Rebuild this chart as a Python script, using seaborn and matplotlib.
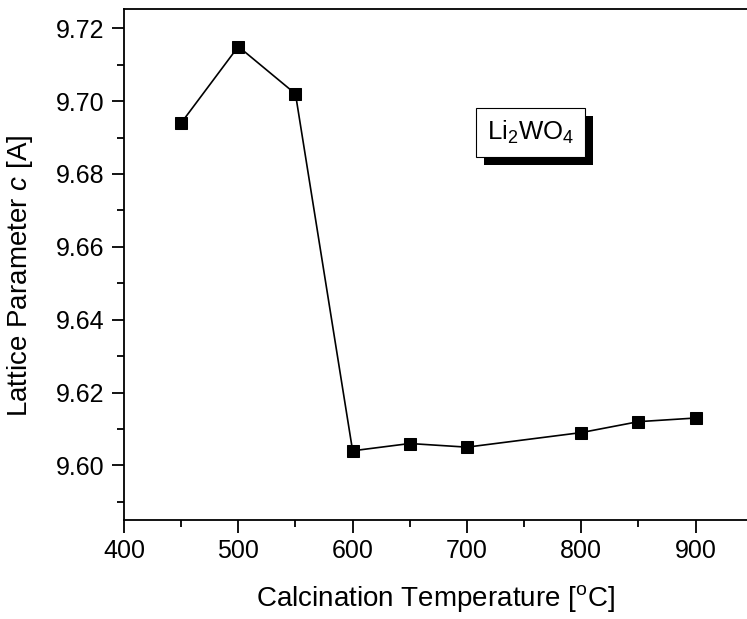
import pandas as pd
import numpy as np
import matplotlib
matplotlib.use("Agg")
import matplotlib.pyplot as plt
import matplotlib.patheffects as pe
import seaborn as sns
from matplotlib.ticker import MultipleLocator

sns.set_style("ticks")
plt.rcParams["font.family"] = ["Liberation Sans", "DejaVu Sans"]
plt.rcParams["mathtext.fontset"] = "custom"
plt.rcParams["mathtext.rm"] = "Liberation Sans"
plt.rcParams["mathtext.it"] = "Liberation Sans:italic"
plt.rcParams["text.color"] = "black"
plt.rcParams["axes.labelcolor"] = "black"

# calcination temperature [oC] and lattice parameter c [A]
temperature = [450, 500, 550, 600, 650, 700, 800, 850, 900]
lattice_c = [9.694, 9.715, 9.702, 9.604, 9.606, 9.605, 9.609, 9.612, 9.613]
df = pd.DataFrame({"T": temperature, "c": lattice_c})

fig = plt.figure(figsize=(7.47, 6.19), dpi=100)
ax = fig.add_axes([124 / 747, 1 - 520 / 619, 1 - 124 / 747, (520 - 9) / 619])

sns.lineplot(data=df, x="T", y="c", ax=ax, color="black", linewidth=1.2,
             marker="s", markersize=8, markeredgecolor="black")

ax.set_xlim(400, 945)
ax.set_ylim(9.585, 9.7253)
ax.xaxis.set_major_locator(MultipleLocator(100))
ax.xaxis.set_minor_locator(MultipleLocator(50))
ax.yaxis.set_major_locator(MultipleLocator(0.02))
ax.yaxis.set_minor_locator(MultipleLocator(0.01))
ax.yaxis.set_major_formatter(plt.FormatStrFormatter("%.2f"))
ax.tick_params(which="major", direction="out", length=9, width=1.3, labelsize=18,
               colors="black", labelcolor="black")
ax.tick_params(which="minor", direction="out", length=5, width=1.3, colors="black")
ax.tick_params(axis="x", pad=5)
ax.tick_params(axis="y", pad=5)
for side in ["left", "bottom", "top"]:
    ax.spines[side].set_linewidth(1.3)
    ax.spines[side].set_color("black")
ax.spines["right"].set_visible(False)

ax.set_xlabel("Calcination Temperature [$\\mathregular{^{o}}$C]", fontsize=20, labelpad=14)
ax.set_ylabel("Lattice Parameter $c$ [A]", fontsize=20)
ax.yaxis.set_label_coords(-0.143, 0.477)

t = ax.text(0.652, 0.759, "Li$_\\mathregular{2}$WO$_\\mathregular{4}$", transform=ax.transAxes,
            fontsize=18.5, ha="center", va="center",
            bbox=dict(boxstyle="square,pad=0.42", facecolor="white", edgecolor="black", linewidth=0.8))
t.get_bbox_patch().set_path_effects([
    pe.SimplePatchShadow(offset=(6, -6), shadow_rgbFace="black", alpha=1.0),
    pe.Normal()])

plt.savefig("out.png", dpi=100)
